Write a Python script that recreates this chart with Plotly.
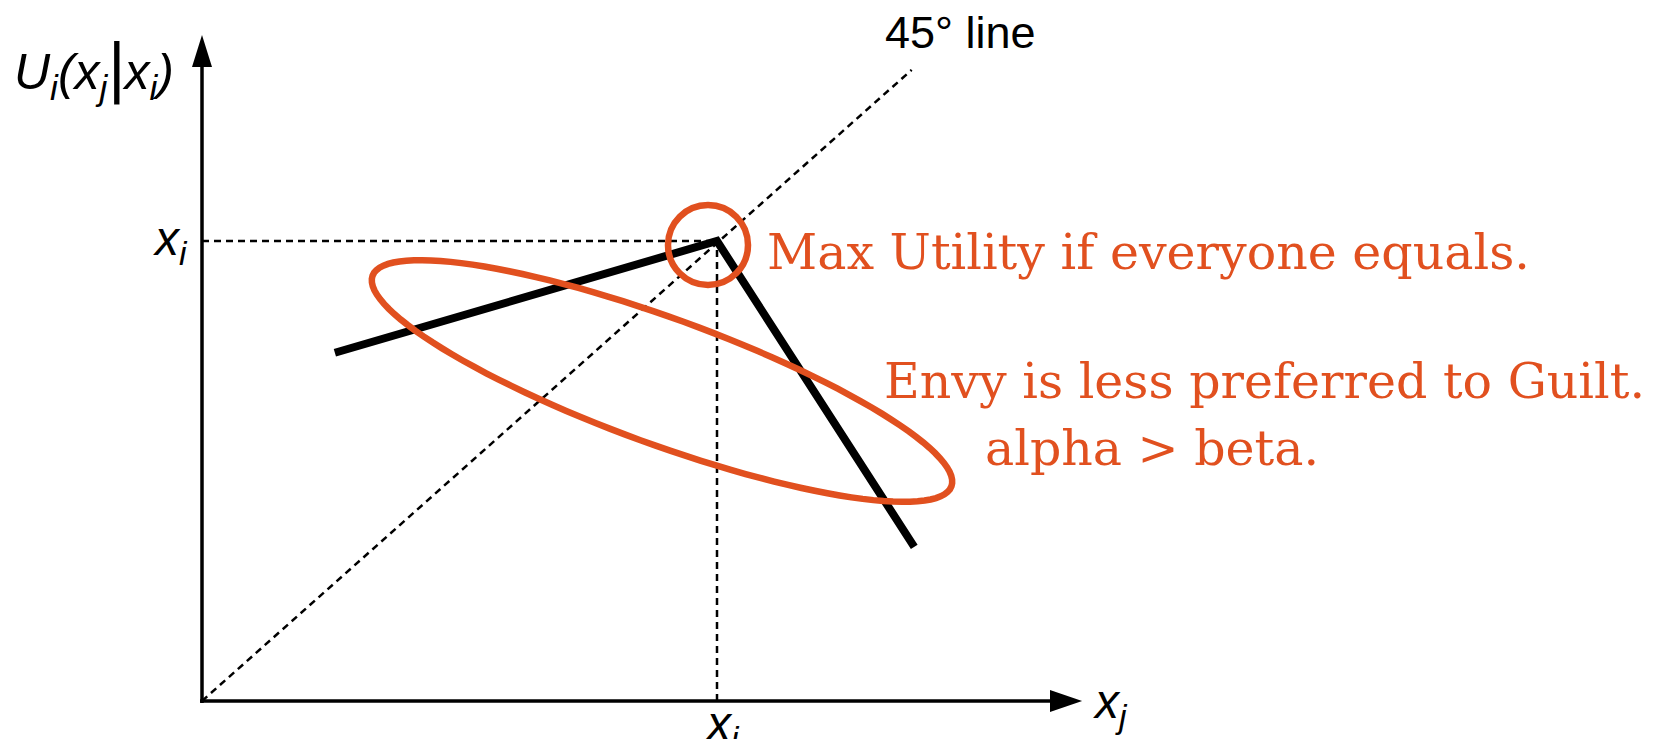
import numpy as np
import plotly.graph_objects as go

# inequity-aversion utility sketch, x_i normalised to 1
x_i = 1.0
utility_x = [0.258, x_i, 1.383]
utility_y = [0.757, x_i, 0.335]
diag_x = [0.0, 1.378]
diag_y = [0.0, 1.372]
axis_y_top = 1.448
axis_x_right = 1.709

ORANGE = "#E1501F"
W, H = 1660, 739
PAD = 8  # default body margin of the page
# page-pixel origin and pixels per unit
X0, Y0, SX, SY = 202, 701, 515, 460


def px(v):
    return (v - X0) / SX


def py(v):
    return (Y0 - v) / SY


fig = go.Figure()

# axes
fig.add_trace(go.Scatter(x=[0, 0], y=[py(703), py(66)], mode="lines",
                         line=dict(color="black", width=3.5), hoverinfo="skip"))
fig.add_trace(go.Scatter(x=[px(200), px(1052)], y=[0, 0], mode="lines",
                         line=dict(color="black", width=3.5), hoverinfo="skip"))

# 45 degree line and x_i guides
dash = dict(color="black", width=2.5, dash="7px,5px")
fig.add_trace(go.Scatter(x=diag_x, y=diag_y, mode="lines", line=dash, hoverinfo="skip"))
fig.add_trace(go.Scatter(x=[0, x_i], y=[x_i, x_i], mode="lines", line=dash, hoverinfo="skip"))
fig.add_trace(go.Scatter(x=[x_i, x_i], y=[0, x_i], mode="lines", line=dash, hoverinfo="skip"))

# utility curve
fig.add_trace(go.Scatter(x=utility_x, y=utility_y, mode="lines",
                         line=dict(color="black", width=8), hoverinfo="skip"))

shapes = []
# arrow heads
shapes.append(dict(type="path", xref="x", yref="y", fillcolor="black", line=dict(width=0),
                   path=f"M {-10/SX} {py(67)} L 0 {axis_y_top} L {10/SX} {py(67)} Z"))
shapes.append(dict(type="path", xref="x", yref="y", fillcolor="black", line=dict(width=0),
                   path=f"M {px(1050)} {11/SY} L {axis_x_right} 0 L {px(1050)} {-11/SY} Z"))

# small circle at the kink
cx, cy, r = 708, 245, 40
shapes.append(dict(type="circle", xref="x", yref="y", line=dict(color=ORANGE, width=6.5),
                   x0=px(cx - r), x1=px(cx + r), y0=py(cy + r), y1=py(cy - r)))

# tilted ellipse (pixel space)
ecx, ecy, ea, eb, th = 662, 381, 308, 63, np.radians(20)
t = np.linspace(0, 2 * np.pi, 121)
ex = ecx + ea * np.cos(t) * np.cos(th) - eb * np.sin(t) * np.sin(th)
ey = ecy + ea * np.cos(t) * np.sin(th) + eb * np.sin(t) * np.cos(th)
path = "M " + " L ".join(f"{px(a):.5f} {py(b):.5f}" for a, b in zip(ex, ey)) + " Z"
shapes.append(dict(type="path", xref="x", yref="y", path=path,
                   line=dict(color=ORANGE, width=6.5)))

sans = "Liberation Sans, Arial, sans-serif"
serif = "DejaVu Serif, serif"
annotations = [
    dict(x=px(960), y=py(32), text="45° line", font=dict(family=sans, size=45, color="black")),
    dict(x=px(94), y=py(68),
         text="<i>U<sub>i</sub>(x<sub>j</sub><span style='font-size:66px'>|</span>x<sub>i</sub>)</i>",
         font=dict(family=sans, size=50, color="black")),
    dict(x=px(170), y=py(242), text="<i>x<sub>i</sub></i>", font=dict(family=sans, size=48, color="black")),
    dict(x=px(722), y=py(727), text="<i>x<sub>i</sub></i>", font=dict(family=sans, size=48, color="black")),
    dict(x=px(1110), y=py(705), text="<i>x<sub>j</sub></i>", font=dict(family=sans, size=48, color="black")),
    dict(x=px(765), y=py(252), xanchor="left", text="Max Utility if everyone equals.",
         font=dict(family=serif, size=49, color=ORANGE)),
    dict(x=px(882), y=py(381), xanchor="left", text="Envy is less preferred to Guilt.",
         font=dict(family=serif, size=49, color=ORANGE)),
    dict(x=px(983), y=py(448), xanchor="left", text="alpha &gt; beta.",
         font=dict(family=serif, size=49, color=ORANGE)),
]
for a in annotations:
    a.setdefault("xanchor", "center")
    a["yanchor"] = "middle"
    a["showarrow"] = False
    a["xref"] = "x"
    a["yref"] = "y"

fig.update_layout(
    width=W - PAD, height=H - PAD,
    margin=dict(l=0, r=0, t=0, b=0),
    paper_bgcolor="white", plot_bgcolor="white",
    showlegend=False,
    shapes=shapes,
    annotations=annotations,
    xaxis=dict(range=[px(PAD), px(W)], visible=False, fixedrange=True),
    yaxis=dict(range=[py(H), py(PAD)], visible=False, fixedrange=True),
)

fig.write_html("out.html")
